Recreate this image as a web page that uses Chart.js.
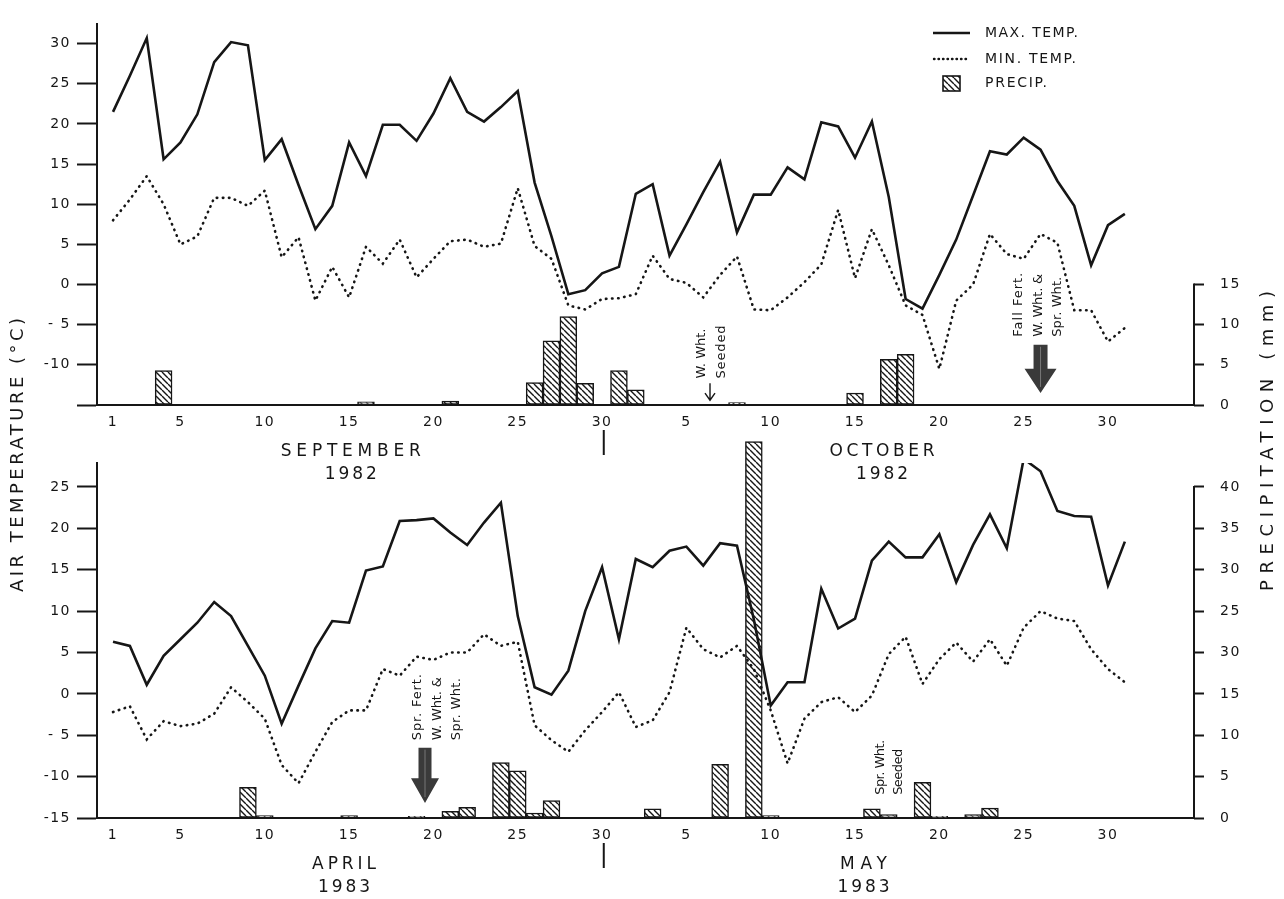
<!DOCTYPE html>
<html>
<head>
<meta charset="utf-8">
<script src="https://cdn.jsdelivr.net/npm/chart.js@4/dist/chart.umd.min.js"></script>
<style>
  html, body { margin: 0; padding: 0; background: #fff; }
  #wrap { position: relative; width: 1284px; height: 899px; background: #fff; }
  canvas { position: absolute; left: 0; top: 0; }
</style>
</head>
<body>
<div id="wrap">
  <canvas id="springChart" width="1284" height="899"></canvas>
  <canvas id="fallChart" width="1284" height="899"></canvas>
</div>
<script>
// daily values, first entry = day 1 of the month
var sepMax = [21.5, 26, 30.7, 15.6, 17.7, 21.2, 27.7, 30.2, 29.8, 15.5, 18.1, 12.4, 6.9, 9.8, 17.7,
  13.5, 19.9, 19.9, 17.9, 21.3, 25.7, 21.5, 20.3, 22.1, 24.1, 12.7, 6.0, -1.2, -0.7, 1.4];
var sepMin = [8.0, 10.6, 13.5, 10.0, 5.0, 6.0, 10.8, 10.8, 9.8, 11.7, 3.4, 5.9, -2.0, 2.2, -1.6,
  4.7, 2.6, 5.6, 0.9, 3.2, 5.4, 5.6, 4.7, 5.1, 12.0, 4.8, 3.2, -2.6, -3.1, -1.8];
var sepRain = [0, 0, 0, 4.3, 0, 0, 0, 0, 0, 0, 0, 0, 0, 0, 0,
  0.4, 0, 0, 0, 0, 0.5, 0, 0, 0, 0, 2.8, 8.0, 11.0, 2.7, 0];

var octMax = [2.2, 11.3, 12.5, 3.6, 7.5, 11.5, 15.3, 6.5, 11.2, 11.2, 14.6, 13.1, 20.2, 19.7, 15.8,
  20.3, 10.9, -1.8, -3.0, 1.2, 5.6, 11.1, 16.6, 16.2, 18.3, 16.8, 12.9, 9.8, 2.4, 7.4, 8.8];
var octMin = [-1.7, -1.2, 3.6, 0.7, 0.2, -1.6, 1.2, 3.5, -3.1, -3.2, -1.6, 0.3, 2.5, 9.3, 0.8,
  6.9, 2.4, -2.6, -3.8, -10.5, -2.0, 0, 6.3, 3.8, 3.2, 6.3, 5.2, -3.2, -3.2, -7.1, -5.4];
var octRain = [4.3, 1.9, 0, 0, 0, 0, 0, 0.3, 0, 0, 0, 0, 0, 0, 1.5,
  0, 5.7, 6.3, 0, 0, 0, 0, 0, 0, 0, 0, 0, 0, 0, 0, 0];

var aprMax = [6.3, 5.8, 1.1, 4.6, 6.6, 8.6, 11.1, 9.4, 5.8, 2.2, -3.6, 1.0, 5.5, 8.8, 8.6,
  14.9, 15.4, 20.9, 21.0, 21.2, 19.5, 18.0, 20.7, 23.1, 9.4, 0.8, -0.1, 2.8, 10.0, 15.3];
var aprMin = [-2.2, -1.5, -5.5, -3.3, -3.9, -3.6, -2.4, 0.8, -1.0, -3.0, -8.6, -10.8, -7.0, -3.4, -2.0,
  -2.0, 3.0, 2.2, 4.5, 4.1, 5.0, 5.0, 7.2, 5.8, 6.3, -3.8, -5.6, -7.0, -4.4, -2.2];
var aprRain = [0, 0, 0, 0, 0, 0, 0, 0, 3.7, 0.3, 0, 0, 0, 0, 0.3,
  0, 0, 0, 0.2, 0, 0.8, 1.3, 0, 6.7, 5.7, 0.6, 2.1, 0, 0, 0];

var mayMax = [6.6, 16.3, 15.3, 17.3, 17.8, 15.5, 18.2, 17.9, 9.0, -1.4, 1.4, 1.4, 12.7, 7.9, 9.1,
  16.1, 18.4, 16.5, 16.5, 19.3, 13.5, 18.0, 21.7, 17.6, 28.4, 26.9, 22.1, 21.5, 21.4, 13.1, 18.4];
var mayMin = [0.2, -4.0, -3.2, 0.2, 8.0, 5.4, 4.4, 5.8, 3.0, -2.0, -8.4, -3.0, -1.0, -0.4, -2.2,
  -0.2, 4.8, 6.9, 1.2, 4.2, 6.2, 3.9, 6.6, 3.4, 8.0, 10.0, 9.1, 8.8, 5.4, 3.0, 1.4];
var mayRain = [0, 0, 1.1, 0, 0, 0, 6.5, 0, 45.5, 0.3, 0, 0, 0, 0, 0,
  1.1, 0.4, 0, 4.3, 0.2, 0, 0.4, 1.2, 0, 0, 0, 0, 0, 0, 0, 0];

// x positions are day indexes counted from the first day of the first month
var dayTicks = [0, 4, 9, 14, 19, 24, 29, 34, 39, 44, 49, 54, 59];
var dayTickLabels = ['1', '5', '10', '15', '20', '25', '30', '5', '10', '15', '20', '25', '30'];

var fallTempTicks = [-15, -10, -5, 0, 5, 10, 15, 20, 25, 30];
var fallTempLabels = ['', '-10', '- 5', '0', '5', '10', '15', '20', '25', '30'];
var fallRainTicks = [0, 5, 10, 15];
var fallRainLabels = ['0', '5', '10', '15'];

var springTempTicks = [-15, -10, -5, 0, 5, 10, 15, 20, 25];
var springTempLabels = ['-15', '-10', '- 5', '0', '5', '10', '15', '20', '25'];
var springRainTicks = [0, 5, 10, 15, 20, 25, 30, 35, 40];
var springRainLabels = ['0', '5', '10', '15', '30', '25', '30', '35', '40'];

var FONT = "'DejaVu Sans', sans-serif";
var INK = '#161616';

function hatchPattern() {
  var c = document.createElement('canvas');
  c.width = 6; c.height = 6;
  var g = c.getContext('2d');
  g.fillStyle = '#fff';
  g.fillRect(0, 0, 6, 6);
  g.strokeStyle = INK;
  g.lineWidth = 1.4;
  g.beginPath();
  for (var k = -1; k <= 1; k++) {
    g.moveTo(k * 6, 0);
    g.lineTo(k * 6 + 6, 6);
  }
  g.stroke();
  return g.createPattern(c, 'repeat');
}
var HATCH = hatchPattern();

function points(a, b) {
  return a.concat(b).map(function (v, i) { return { x: i, y: v }; });
}

function rainPoints(a, b) {
  var out = [];
  a.concat(b).forEach(function (v, i) { if (v > 0) out.push({ x: i, y: v }); });
  return out;
}

// text stretched to a given width (letter spacing), optionally rotated to read upward
function label(ctx, text, x, y, size, width, align, up) {
  ctx.save();
  ctx.font = size + 'px ' + FONT;
  ctx.letterSpacing = '0px';
  var w = ctx.measureText(text).width;
  var n = text.length;
  var sp = width ? (width - w) / Math.max(n - 1, 1) : 0;
  var total = w + sp * (n - 1);
  ctx.translate(x, y);
  if (up) ctx.rotate(-Math.PI / 2);
  var sx = align === 'center' ? -total / 2 : (align === 'right' ? -total : 0);
  ctx.letterSpacing = sp + 'px';
  ctx.fillStyle = INK;
  ctx.textAlign = 'left';
  ctx.textBaseline = 'middle';
  ctx.fillText(text, sx, 0);
  ctx.restore();
}

function bigArrow(ctx, x, yTop, yHead, yTip, shaft, head) {
  ctx.save();
  ctx.fillStyle = '#3a3a3a';
  ctx.beginPath();
  ctx.moveTo(x - shaft / 2, yTop);
  ctx.lineTo(x + shaft / 2, yTop);
  ctx.lineTo(x + shaft / 2, yHead);
  ctx.lineTo(x + head / 2, yHead);
  ctx.lineTo(x, yTip);
  ctx.lineTo(x - head / 2, yHead);
  ctx.lineTo(x - shaft / 2, yHead);
  ctx.closePath();
  ctx.fill();
  ctx.strokeStyle = '#777';
  ctx.lineWidth = 1;
  ctx.beginPath();
  ctx.moveTo(x, yTop + 2);
  ctx.lineTo(x, yTip - 6);
  ctx.stroke();
  ctx.restore();
}

function thinArrow(ctx, x, y0, y1) {
  ctx.save();
  ctx.strokeStyle = INK;
  ctx.lineWidth = 1.4;
  ctx.beginPath();
  ctx.moveTo(x, y0);
  ctx.lineTo(x, y1);
  ctx.moveTo(x - 5, y1 - 7);
  ctx.lineTo(x, y1);
  ctx.lineTo(x + 5, y1 - 7);
  ctx.stroke();
  ctx.restore();
}

function line(ctx, x0, y0, x1, y1, w) {
  ctx.save();
  ctx.strokeStyle = INK;
  ctx.lineWidth = w;
  ctx.beginPath();
  ctx.moveTo(x0, y0);
  ctx.lineTo(x1, y1);
  ctx.stroke();
  ctx.restore();
}

function monthLabels(chart, names) {
  var x = chart.scales.x, b = chart.chartArea.bottom, ctx = chart.ctx;
  names.forEach(function (m) {
    label(ctx, m[0], x.getPixelForValue(m[1]), b + 47, 17, m[2], 'center');
    label(ctx, m[3], x.getPixelForValue(m[1]), b + 70, 17, 52, 'center');
  });
  var sx = x.getPixelForValue(29.1);
  line(ctx, sx, b + 25, sx, b + 50, 2);
}

function rightAxis(chart) {
  var r = chart.scales.y2;
  var ticks = r.ticks;
  var x = chart.chartArea.right;
  line(chart.ctx, x, r.getPixelForValue(0) + 1, x, r.getPixelForValue(ticks[ticks.length - 1].value) - 1, 2);
}

function fallNotes(chart) {
  var ctx = chart.ctx, x = chart.scales.x, y = chart.scales.y;
  monthLabels(chart, [['SEPTEMBER', 14.1, 140, '1982'], ['OCTOBER', 45.6, 105, '1982']]);

  // legend
  line(ctx, 933, 33, 970, 33, 2.6);
  ctx.save();
  ctx.strokeStyle = INK;
  ctx.lineWidth = 2.4;
  ctx.lineCap = 'round';
  ctx.setLineDash([0.5, 4]);
  ctx.beginPath();
  ctx.moveTo(934, 59);
  ctx.lineTo(970, 59);
  ctx.stroke();
  ctx.restore();
  ctx.save();
  ctx.fillStyle = HATCH;
  ctx.fillRect(943, 76, 17, 15);
  ctx.strokeStyle = INK;
  ctx.lineWidth = 1.6;
  ctx.strokeRect(943, 76, 17, 15);
  ctx.restore();
  label(ctx, 'MAX. TEMP.', 985, 33, 14, 93, 'left');
  label(ctx, 'MIN. TEMP.', 985, 59, 14, 91, 'left');
  label(ctx, 'PRECIP.', 985, 83, 14, 62, 'left');

  // winter wheat seeding
  var sx = x.getPixelForValue(35.4);
  label(ctx, 'W. Wht.', sx - 8, y.getPixelForValue(-11.7), 13, 50, 'left', true);
  label(ctx, 'Seeded', sx + 12, y.getPixelForValue(-11.7), 13, 53, 'left', true);
  thinArrow(ctx, sx, y.getPixelForValue(-12.3), y.getPixelForValue(-14.4));

  // fall fertilizer
  var fx = x.getPixelForValue(55);
  label(ctx, 'Fall Fert.', fx - 22, y.getPixelForValue(-6.5), 13, 64, 'left', true);
  label(ctx, 'W. Wht. &', fx - 2, y.getPixelForValue(-6.5), 13, 63, 'left', true);
  label(ctx, 'Spr. Wht.', fx + 17, y.getPixelForValue(-6.5), 13, 60, 'left', true);
  bigArrow(ctx, fx, y.getPixelForValue(-7.5), y.getPixelForValue(-10.5), y.getPixelForValue(-13.5), 14, 32);

  rightAxis(chart);
}

function springNotes(chart) {
  var ctx = chart.ctx, x = chart.scales.x, y = chart.scales.y;
  monthLabels(chart, [['APRIL', 13.7, 64, '1983'], ['MAY', 44.5, 47, '1983']]);

  var fx = x.getPixelForValue(18.5);
  label(ctx, 'Spr. Fert.', fx - 7, y.getPixelForValue(-5.6), 13, 66, 'left', true);
  label(ctx, 'W. Wht. &', fx + 13, y.getPixelForValue(-5.6), 13, 63, 'left', true);
  label(ctx, 'Spr. Wht.', fx + 32, y.getPixelForValue(-5.6), 13, 62, 'left', true);
  bigArrow(ctx, fx, y.getPixelForValue(-6.5), y.getPixelForValue(-10.2), y.getPixelForValue(-13.2), 13, 28);

  var sx = x.getPixelForValue(45.5);
  label(ctx, 'Spr. Wht.', sx, y.getPixelForValue(-12.2), 13, 55, 'left', true);
  label(ctx, 'Seeded', sx + 18, y.getPixelForValue(-12.2), 13, 46, 'left', true);

  // axis titles
  label(ctx, 'AIR TEMPERATURE (°C)', 18, 455, 18, 274, 'center', true);
  label(ctx, 'PRECIPITATION (mm)', 1268, 441, 18, 300, 'center', true);

  rightAxis(chart);
}

function buildChart(id, c) {
  var tickFont = { family: FONT, size: 14 };
  return new Chart(document.getElementById(id), {
    type: 'bar',
    data: {
      datasets: [
        {
          type: 'line', label: 'MAX. TEMP.', data: c.max, yAxisID: 'y',
          borderColor: INK, borderWidth: 2.6, pointRadius: 0, tension: 0, order: 1
        },
        {
          type: 'line', label: 'MIN. TEMP.', data: c.min, yAxisID: 'y',
          borderColor: INK, borderWidth: 2.6, borderDash: [0.5, 5.6], borderCapStyle: 'round',
          pointRadius: 0, tension: 0, order: 1
        },
        {
          type: 'bar', label: 'PRECIP.', data: c.rain, yAxisID: 'y2',
          backgroundColor: HATCH, borderColor: INK, borderWidth: 1.5, borderSkipped: false,
          barPercentage: 1, categoryPercentage: 1, order: 2, clip: false
        }
      ]
    },
    options: {
      responsive: false,
      animation: false,
      devicePixelRatio: 1,
      events: [],
      layout: { padding: { top: c.top, left: 0, right: 0, bottom: 0 } },
      plugins: { legend: { display: false }, tooltip: { enabled: false } },
      scales: {
        x: {
          type: 'linear', min: -0.95, max: 64.1, offset: false,
          afterBuildTicks: function (s) { s.ticks = dayTicks.map(function (v) { return { value: v }; }); },
          afterFit: function (s) { s.height = 899 - c.bottom; },
          grid: { display: false, drawTicks: false, offset: false },
          border: { display: true, color: INK, width: 2 },
          ticks: {
            autoSkip: false, maxRotation: 0, padding: 9, color: INK, font: tickFont,
            callback: function (v, i) { return dayTickLabels[i]; }
          }
        },
        y: {
          position: 'left', min: -15, max: c.tempTop,
          afterBuildTicks: function (s) { s.ticks = c.tempTicks.map(function (v) { return { value: v }; }); },
          afterFit: function (s) { s.width = 97; },
          grid: { drawOnChartArea: false, drawTicks: true, tickLength: 20, tickWidth: 2, tickColor: INK },
          border: { display: true, color: INK, width: 2 },
          ticks: {
            padding: 6, color: INK, font: tickFont,
            callback: function (v, i) { return c.tempLabels[i]; }
          }
        },
        y2: {
          position: 'right', min: 0, max: c.tempTop + 15,
          afterBuildTicks: function (s) { s.ticks = c.rainTicks.map(function (v) { return { value: v }; }); },
          afterFit: function (s) { s.width = 1284 - 1194; },
          grid: { drawOnChartArea: false, drawTicks: true, tickLength: 10, tickWidth: 2, tickColor: INK },
          border: { display: false },
          ticks: {
            padding: 16, color: INK, font: tickFont,
            callback: function (v, i) { return c.rainLabels[i]; }
          }
        }
      }
    },
    plugins: [{
      id: 'notes',
      beforeDraw: function (chart) { chart.ctx.letterSpacing = '1.5px'; },
      afterDraw: function (chart) { c.notes(chart); }
    }]
  });
}

buildChart('springChart', {
  max: points(aprMax, mayMax), min: points(aprMin, mayMin), rain: rainPoints(aprRain, mayRain),
  tempTop: 27.9, top: 463, bottom: 818,
  tempTicks: springTempTicks, tempLabels: springTempLabels,
  rainTicks: springRainTicks, rainLabels: springRainLabels,
  notes: springNotes
});

buildChart('fallChart', {
  max: points(sepMax, octMax), min: points(sepMin, octMin), rain: rainPoints(sepRain, octRain),
  tempTop: 32.4, top: 13, bottom: 405,
  tempTicks: fallTempTicks, tempLabels: fallTempLabels,
  rainTicks: fallRainTicks, rainLabels: fallRainLabels,
  notes: fallNotes
});
</script>
</body>
</html>
